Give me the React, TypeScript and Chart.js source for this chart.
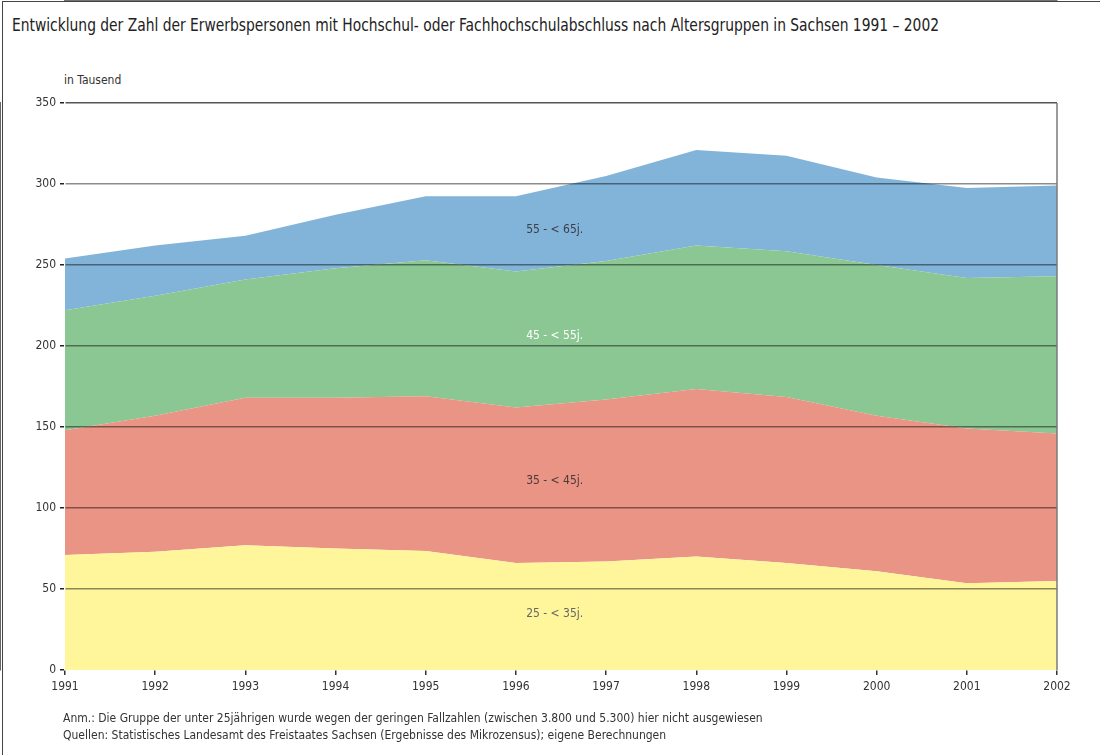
import React, { useEffect, useRef } from "react";
import { Chart, registerables } from "chart.js";
Chart.register(...registerables);

const years = ["1991", "1992", "1993", "1994", "1995", "1996", "1997", "1998", "1999", "2000", "2001", "2002"];
// in Tausend, per age group
const g25to35 = [71, 73, 77, 75, 73.5, 66, 67, 70, 66, 61, 53.5, 55];
const g35to45 = [77, 84, 91, 93, 95.5, 96, 100, 103.5, 102.5, 96, 95.5, 91];
const g45to55 = [74, 74, 73, 80, 84, 84, 85.5, 88.5, 90, 93, 93, 97];
const g55to65 = [32, 31, 27, 33, 39.5, 46.5, 52.5, 59, 59, 54, 55.5, 56];

const groupNames = ["25 - < 35j.", "35 - < 45j.", "45 - < 55j.", "55 - < 65j."];
const groupColors = ["#fff59b", "#e99484", "#8bc793", "#82b4da"];
const labelColors = ["#666666", "#4a3a3a", "#ffffff", "#39404a"];
const labelYearPos = [1996.43, 1996.43, 1996.43, 1996.43];
const labelValuePos = [34.6, 116.7, 206, 271.6];

const FONT = "'DejaVu Sans Condensed', 'Liberation Sans Narrow', sans-serif";

const title = "Entwicklung der Zahl der Erwerbspersonen mit Hochschul- oder Fachhochschulabschluss nach Altersgruppen in Sachsen 1991 – 2002";
const unitLabel = "in Tausend";
const note1 = "Anm.: Die Gruppe der unter 25jährigen wurde wegen der geringen Fallzahlen (zwischen 3.800 und 5.300) hier nicht ausgewiesen";
const note2 = "Quellen: Statistisches Landesamt des Freistaates Sachsen (Ergebnisse des Mikrozensus); eigene Berechnungen";

const overlayPlugin = {
  id: "overlay",
  afterDraw(chart: any) {
    const { ctx, chartArea } = chart;
    const xs = chart.scales.x;
    const ys = chart.scales.y;
    ctx.save();
    ctx.strokeStyle = "#7a7a7a";
    ctx.lineWidth = 1.5;
    ctx.beginPath();
    ctx.moveTo(chartArea.right, chartArea.top);
    ctx.lineTo(chartArea.right, chartArea.bottom);
    ctx.stroke();
    ctx.font = "12px " + FONT;
    ctx.textAlign = "center";
    ctx.textBaseline = "middle";
    groupNames.forEach((name, i) => {
      const px = xs.getPixelForValue(labelYearPos[i] - Number(years[0]));
      const py = ys.getPixelForValue(labelValuePos[i]);
      ctx.fillStyle = labelColors[i];
      ctx.fillText(name, px, py);
    });
    ctx.restore();
  },
};

export default function App() {
  const ref = useRef<HTMLCanvasElement | null>(null);
  useEffect(() => {
    if (!ref.current) return;
    const series = [g25to35, g35to45, g45to55, g55to65];
    const chart = new Chart(ref.current, {
      type: "line",
      data: {
        labels: years,
        datasets: series.map((d, i) => ({
          label: groupNames[i],
          data: d,
          backgroundColor: groupColors[i],
          borderColor: groupColors[i],
          borderWidth: 0,
          pointRadius: 0,
          fill: i === 0 ? "origin" : "-1",
          tension: 0,
        })),
      },
      options: {
        responsive: false,
        animation: false,
        events: [],
        layout: { padding: { left: 0, right: 43, top: 103, bottom: 65 } },
        plugins: { legend: { display: false }, tooltip: { enabled: false }, title: { display: false } },
        scales: {
          x: {
            offset: false,
            grid: { z: 1, drawOnChartArea: false, drawTicks: true, tickLength: 5, tickColor: "#333", lineWidth: 1.5 },
            border: { display: true, color: "#444", width: 1.5 },
            ticks: { color: "#333", font: { family: FONT, size: 12 }, padding: 5, maxRotation: 0, autoSkip: false },
            afterFit: (s: any) => { s.height = 20; },
          },
          y: {
            stacked: true,
            min: 0,
            max: 350,
            grid: {
              z: 1,
              color: (c: any) => (c.tick && c.tick.value === 350 ? "#555555" : c.tick && c.tick.value === 0 ? "rgba(0,0,0,0)" : "rgba(0,0,0,0.45)"),
              lineWidth: 1.5,
              tickLength: 5,
              tickColor: "#222",
            },
            border: { display: true, color: "#333", width: 1.5 },
            ticks: { stepSize: 50, color: "#333", font: { family: FONT, size: 12 }, padding: 4 },
            afterFit: (s: any) => { s.width = 65; },
          },
        },
      },
      plugins: [overlayPlugin],
    });
    return () => chart.destroy();
  }, []);

  const textStyle: React.CSSProperties = { position: "absolute", fontFamily: FONT, whiteSpace: "nowrap", color: "#333" };
  return (
    <div style={{ position: "absolute", left: 0, top: 0, width: 1100, height: 755, background: "#fff", overflow: "hidden" }}>
      <div style={{ ...textStyle, left: 12, top: 15, fontSize: 17, color: "#222", transform: "scaleX(0.905)", transformOrigin: "0 0" }}>{title}</div>
      <div style={{ ...textStyle, left: 64, top: 73, fontSize: 12 }}>{unitLabel}</div>
      <canvas ref={ref} width={1100} height={755} style={{ position: "absolute", left: 0, top: 0 }} />
      <div style={{ ...textStyle, left: 63, top: 711, fontSize: 12 }}>{note1}</div>
      <div style={{ ...textStyle, left: 63, top: 728, fontSize: 12 }}>{note2}</div>
      <div style={{ position: "absolute", left: 2, top: 1, width: 1200, height: 800, borderLeft: "1px solid #444", borderTop: "1px solid #444", pointerEvents: "none" }} />
    </div>
  );
}
